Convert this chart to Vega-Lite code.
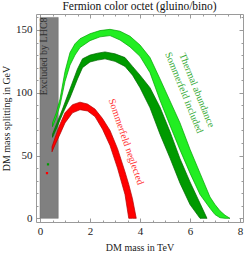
{
  "$schema": "https://vega.github.io/schema/vega-lite/v6.json",
  "width": 207,
  "height": 208,
  "autosize": {"type": "none"},
  "padding": {"left": 36, "top": 14, "right": 2, "bottom": 31},
  "background": "white",
  "title": {"text": "Fermion color octet (gluino/bino)", "font": "Liberation Serif", "fontSize": 11.5, "fontWeight": "normal", "color": "#111", "offset": 1, "anchor": "middle"},
  "config": {
    "view": {"stroke": null},
    "axis": {"grid": false, "labelFont": "Liberation Serif", "labelFontSize": 11, "labelColor": "#222", "titleFont": "Liberation Serif", "titleFontSize": 10, "titleFontWeight": "normal", "titleColor": "#222", "domainColor": "#9a9a9a", "tickColor": "#9a9a9a", "domainWidth": 1, "tickWidth": 1}
  },
  "datasets": {
    "gray": [{"tev_lo": 0, "tev_hi": 0.73, "gev_lo": 0, "gev_hi": 160}],
    "bands": [
      {"s": "light", "tev": 0.5, "hi": 76, "lo": 73},
      {"s": "light", "tev": 0.65, "hi": 84, "lo": 80.5},
      {"s": "light", "tev": 0.8, "hi": 95, "lo": 90},
      {"s": "light", "tev": 1.0, "hi": 117, "lo": 109},
      {"s": "light", "tev": 1.2, "hi": 132, "lo": 122},
      {"s": "light", "tev": 1.4, "hi": 139, "lo": 130},
      {"s": "light", "tev": 1.6, "hi": 143, "lo": 136},
      {"s": "light", "tev": 2.0, "hi": 147, "lo": 141.5},
      {"s": "light", "tev": 2.4, "hi": 149.5, "lo": 144.5},
      {"s": "light", "tev": 2.8, "hi": 150.5, "lo": 145.5},
      {"s": "light", "tev": 3.2, "hi": 149, "lo": 142},
      {"s": "light", "tev": 3.6, "hi": 145, "lo": 136.5},
      {"s": "light", "tev": 4.0, "hi": 138, "lo": 129},
      {"s": "light", "tev": 4.4, "hi": 128, "lo": 116},
      {"s": "light", "tev": 4.8, "hi": 111, "lo": 94},
      {"s": "light", "tev": 5.2, "hi": 93.5, "lo": 74},
      {"s": "light", "tev": 5.6, "hi": 76, "lo": 54.5},
      {"s": "light", "tev": 6.0, "hi": 55, "lo": 36},
      {"s": "light", "tev": 6.4, "hi": 36, "lo": 19},
      {"s": "light", "tev": 6.8, "hi": 17, "lo": 8},
      {"s": "light", "tev": 7.0, "hi": 11, "lo": 3},
      {"s": "light", "tev": 7.2, "hi": 6, "lo": 0.5},
      {"s": "light", "tev": 7.4, "hi": 2.5, "lo": 0},
      {"s": "light", "tev": 7.6, "hi": 0, "lo": 0},
      {"s": "dark", "tev": 0.5, "hi": 67, "lo": 64.5},
      {"s": "dark", "tev": 0.7, "hi": 77, "lo": 73.5},
      {"s": "dark", "tev": 0.9, "hi": 87, "lo": 83},
      {"s": "dark", "tev": 1.2, "hi": 103, "lo": 96},
      {"s": "dark", "tev": 1.5, "hi": 119, "lo": 111},
      {"s": "dark", "tev": 1.7, "hi": 127, "lo": 120},
      {"s": "dark", "tev": 2.0, "hi": 130, "lo": 124.5},
      {"s": "dark", "tev": 2.3, "hi": 131.5, "lo": 126},
      {"s": "dark", "tev": 2.6, "hi": 132.5, "lo": 127},
      {"s": "dark", "tev": 3.0, "hi": 131, "lo": 125},
      {"s": "dark", "tev": 3.4, "hi": 128, "lo": 121},
      {"s": "dark", "tev": 3.7, "hi": 121, "lo": 114},
      {"s": "dark", "tev": 4.0, "hi": 114, "lo": 104},
      {"s": "dark", "tev": 4.4, "hi": 104, "lo": 88},
      {"s": "dark", "tev": 4.8, "hi": 88.5, "lo": 67},
      {"s": "dark", "tev": 5.2, "hi": 69, "lo": 48},
      {"s": "dark", "tev": 5.6, "hi": 47.5, "lo": 28},
      {"s": "dark", "tev": 6.0, "hi": 29, "lo": 11},
      {"s": "dark", "tev": 6.4, "hi": 12, "lo": 0},
      {"s": "dark", "tev": 6.68, "hi": 0, "lo": 0},
      {"s": "red", "tev": 0.48, "hi": 57, "lo": 53},
      {"s": "red", "tev": 0.6, "hi": 64, "lo": 58.5},
      {"s": "red", "tev": 0.8, "hi": 75, "lo": 67},
      {"s": "red", "tev": 1.0, "hi": 84, "lo": 76},
      {"s": "red", "tev": 1.3, "hi": 90.5, "lo": 84},
      {"s": "red", "tev": 1.6, "hi": 92.5, "lo": 86.5},
      {"s": "red", "tev": 1.9, "hi": 91, "lo": 85.5},
      {"s": "red", "tev": 2.2, "hi": 87, "lo": 81},
      {"s": "red", "tev": 2.5, "hi": 79.5, "lo": 71},
      {"s": "red", "tev": 2.8, "hi": 70, "lo": 58},
      {"s": "red", "tev": 3.1, "hi": 55.5, "lo": 40},
      {"s": "red", "tev": 3.4, "hi": 37, "lo": 19},
      {"s": "red", "tev": 3.55, "hi": 27, "lo": 0},
      {"s": "red", "tev": 3.7, "hi": 15.5, "lo": 0},
      {"s": "red", "tev": 3.85, "hi": 0, "lo": 0}
    ],
    "dots": [
      {"s": "red", "tev": 0.28, "gev": 36},
      {"s": "dark", "tev": 0.32, "gev": 43}
    ],
    "labels": [
      {"s": "redtext", "text": "Sommerfeld neglected", "tev": 3.44, "gev": 61, "ang": 71},
      {"s": "greentext", "text": "Thermal abundance", "tev": 6.27, "gev": 102, "ang": 68},
      {"s": "greentext", "text": "Sommerfeld included", "tev": 5.76, "gev": 100, "ang": 68}
    ],
    "excl": [{"text": "Excluded by LHC8", "tev": 0.28, "gev": 160}]
  },
  "layer": [
    {
      "data": {"name": "gray"},
      "mark": {"type": "rect", "fill": "#808080", "stroke": "#6e6e6e", "strokeWidth": 0.5},
      "encoding": {
        "x": {"field": "tev_lo", "type": "quantitative", "scale": {"domain": [-0.16, 8.12], "nice": false, "zero": false},
              "axis": {"orient": "top", "values": [0, 2, 4, 6, 8], "tickSize": -4, "labels": false, "title": null, "domain": true}},
        "x2": {"field": "tev_hi"},
        "y": {"field": "gev_lo", "type": "quantitative", "scale": {"domain": [-2.9, 162.7], "nice": false, "zero": false},
              "axis": {"orient": "right", "values": [0, 50, 100, 150], "tickSize": -4, "labels": false, "title": null, "domain": true}},
        "y2": {"field": "gev_hi"}
      }
    },
    {
      "data": {"name": "bands"},
      "mark": {"type": "area", "strokeWidth": 0.7, "opacity": 1},
      "encoding": {
        "x": {"field": "tev", "type": "quantitative",
              "axis": {"orient": "bottom", "values": [0, 2, 4, 6, 8], "tickSize": -4, "labelPadding": 7, "title": "DM mass in TeV", "titlePadding": 6, "domain": true}},
        "y": {"field": "hi", "type": "quantitative",
              "axis": {"orient": "left", "values": [0, 50, 100, 150], "tickSize": -4, "labelPadding": 8, "title": "DM mass splitting in GeV", "titlePadding": 4, "domain": true}},
        "y2": {"field": "lo"},
        "color": {"field": "s", "type": "nominal", "legend": null,
                  "scale": {"domain": ["light", "dark", "red", "greentext", "redtext"], "range": ["#22ee22", "#009a00", "#ff0000", "#33aa33", "#ff3333"]}},
        "stroke": {"field": "s", "type": "nominal", "legend": null,
                   "scale": {"domain": ["light", "dark", "red"], "range": ["#00a000", "#006400", "#b00000"]}}
      }
    },
    {
      "data": {"name": "dots"},
      "mark": {"type": "point", "shape": "square", "filled": true, "size": 5, "opacity": 1},
      "encoding": {
        "x": {"field": "tev", "type": "quantitative",
              "axis": {"orient": "bottom", "values": [0, 0.5, 1, 1.5, 2, 2.5, 3, 3.5, 4, 4.5, 5, 5.5, 6, 6.5, 7, 7.5, 8], "tickSize": -2, "labels": false, "title": null, "domain": false}},
        "y": {"field": "gev", "type": "quantitative",
              "axis": {"orient": "left", "values": [0, 10, 20, 30, 40, 50, 60, 70, 80, 90, 100, 110, 120, 130, 140, 150, 160], "tickSize": -2, "labels": false, "title": null, "domain": false}},
        "color": {"field": "s", "type": "nominal", "legend": null,
                  "scale": {"domain": ["light", "dark", "red", "greentext", "redtext"], "range": ["#22ee22", "#009a00", "#ff0000", "#33aa33", "#ff3333"]}}
      }
    },
    {
      "data": {"name": "labels"},
      "mark": {"type": "text", "font": "Liberation Serif", "fontSize": 10, "align": "center", "baseline": "middle"},
      "encoding": {
        "x": {"field": "tev", "type": "quantitative",
              "axis": {"orient": "top", "values": [0, 0.5, 1, 1.5, 2, 2.5, 3, 3.5, 4, 4.5, 5, 5.5, 6, 6.5, 7, 7.5, 8], "tickSize": -2, "labels": false, "title": null, "domain": false}},
        "y": {"field": "gev", "type": "quantitative",
              "axis": {"orient": "right", "values": [0, 10, 20, 30, 40, 50, 60, 70, 80, 90, 100, 110, 120, 130, 140, 150, 160], "tickSize": -2, "labels": false, "title": null, "domain": false}},
        "text": {"field": "text"},
        "angle": {"field": "ang", "type": "quantitative", "scale": null},
        "color": {"field": "s", "type": "nominal", "legend": null,
                  "scale": {"domain": ["light", "dark", "red", "greentext", "redtext"], "range": ["#22ee22", "#009a00", "#ff0000", "#33aa33", "#ff3333"]}}
      }
    },
    {
      "data": {"name": "excl"},
      "mark": {"type": "text", "font": "Liberation Serif", "fontSize": 10, "angle": 270, "align": "right", "baseline": "alphabetic", "color": "#303030"},
      "encoding": {
        "x": {"field": "tev", "type": "quantitative", "axis": null},
        "y": {"field": "gev", "type": "quantitative", "axis": null},
        "text": {"field": "text"}
      }
    }
  ],
  "resolve": {"axis": {"x": "independent", "y": "independent"}}
}
